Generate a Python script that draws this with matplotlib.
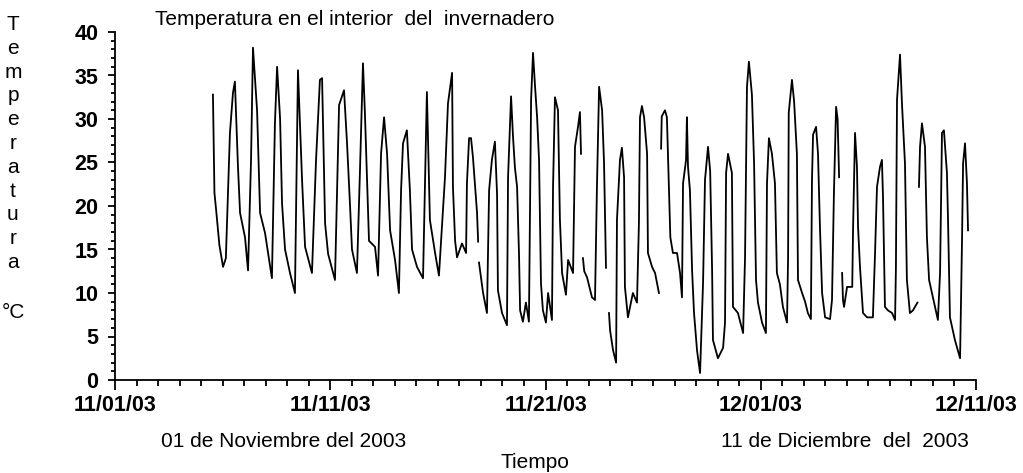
import numpy as np
import matplotlib
matplotlib.use("Agg")
import matplotlib.pyplot as plt
from matplotlib.ticker import MultipleLocator

# tiempo en dias desde el 01/11/03, temperatura en grados C (nan = hueco en el registro)
nan = np.nan
dias = [4.55, 4.62, 4.70, 4.85, 5.02, 5.15, 5.34, 5.48, 5.57, 5.71, 5.81, 6.04, 6.18,
        6.32, 6.41, 6.60, 6.74, 6.97, 7.11, 7.29,
        7.43, 7.53, 7.67, 7.76, 7.90, 8.13, 8.36,
        8.50, 8.69, 8.83, 9.15,
        9.34, 9.52, 9.62, 9.76, 9.90, 10.22,
        10.41, 10.64, 10.78, 10.92, 11.01, 11.24,
        11.38, 11.52, 11.61, 11.80, 12.08, 12.22,
        12.36, 12.50, 12.64, 12.78, 13.01, 13.19,
        13.29, 13.38, 13.56, 13.70, 13.80, 14.03, 14.31,
        14.45, 14.49, 14.63, 14.87, 15.05,
        15.33, 15.47, 15.66, 15.70, 15.80, 15.89, 16.12, 16.31,
        16.35, 16.45, 16.54, 16.63, 16.72, 16.82, 16.87, 16.89, 16.91, 17.10, 17.28,
        17.33, 17.38, 17.51, 17.65, 17.75, 17.79, 17.98, 18.21,
        18.26, 18.40, 18.49, 18.58, 18.68, 18.77, 18.82, 18.95, 19.09, 19.23,
        19.33, 19.42, 19.51, 19.61, 19.70, 19.79, 19.88, 20.02, 20.12, 20.30,
        20.35, 20.44, 20.58, 20.67, 20.77, 20.95, 21.05, 21.28,
        21.37, 21.51, 21.60, 21.65, 21.70, 21.74, 21.80, 21.93, 22.16, 22.30,
        22.39, 22.49, 22.63, 22.72, 22.81, 22.88, 22.95, 23.00, 23.14, 23.28,
        23.32, 23.46, 23.55, 23.65, 23.69, 23.83, 24.06, 24.25,
        24.34, 24.39, 24.48, 24.58, 24.72, 24.76, 24.95, 25.09, 25.27, 25.32,
        25.37, 25.40, 25.55, 25.64, 25.74, 25.80, 25.92, 26.11, 26.25, 26.34,
        26.39, 26.53, 26.57, 26.62, 26.71, 26.81, 26.90, 27.04, 27.18,
        27.32, 27.41, 27.55, 27.65, 27.74, 27.78, 28.01, 28.25,
        28.34, 28.39, 28.48, 28.66, 28.71, 28.94, 29.18,
        29.27, 29.36, 29.45, 29.59, 29.69, 29.78, 29.87, 30.06, 30.24,
        30.29, 30.38, 30.52, 30.66, 30.75, 30.89, 31.03, 31.22,
        31.27, 31.30, 31.45, 31.55, 31.68, 31.73, 31.92, 32.06, 32.19, 32.33,
        32.38, 32.43, 32.57, 32.66, 32.75, 32.85, 32.99, 33.22,
        33.31, 33.40, 33.50, 33.57, 33.64, 33.70, 33.78, 33.82, 33.87, 34.01, 34.25,
        34.29, 34.38, 34.47, 34.52, 34.61, 34.75, 34.94, 35.21,
        35.31, 35.40, 35.54, 35.63, 35.68, 35.77, 35.91, 36.10, 36.24,
        36.28, 36.33, 36.47, 36.56, 36.70, 36.79, 36.93, 37.07, 37.28, 37.32,
        37.35, 37.40, 37.49, 37.63, 37.72, 37.82, 38.00, 38.23,
        38.33, 38.42, 38.51, 38.65, 38.70, 38.79, 39.02, 39.26,
        39.35, 39.40, 39.49, 39.58, 39.63]
temp = [32.8, 21.5, 19.5, 15.5, 13.0, 14.0, 28.4, 33.0, 34.3, 24.7, 19.2, 16.4, 12.6,
        25.3, 38.2, 31.0, 19.2, 16.9, 14.6, 11.7,
        29.5, 36.0, 30.0, 20.3, 15.0, 12.3, 10.0,
        35.6, 23.0, 15.3, 12.3,
        25.3, 34.5, 34.7, 18.0, 14.5, 11.5,
        31.6, 33.3, 27.2, 20.0, 15.0, 12.3,
        24.0, 36.4, 30.7, 16.0, 15.3, 12.0,
        26.0, 30.2, 26.0, 17.2, 13.8, 10.0,
        21.8, 27.2, 28.7, 21.8, 15.0, 13.0, 11.7,
        28.0, 33.1, 18.4, 14.6, 12.0,
        23.3, 31.8, 35.3, 22.2, 16.0, 14.1, 15.7, 14.6,
        22.6, 27.8, 27.8, 25.6, 22.6, 19.2, 15.9, nan, 13.5, 10.0, 7.7,
        15.0, 21.8, 25.3, 27.4, 21.3, 10.3, 7.7, 6.3,
        23.3, 32.6, 28.0, 24.4, 22.2, 14.4, 8.0, 6.7, 8.9, 6.7,
        32.2, 37.6, 33.9, 30.2, 25.3, 11.1, 8.0, 6.6, 10.0, 6.9,
        22.2, 32.5, 31.0, 18.4, 12.3, 9.8, 13.8, 12.3,
        26.8, 29.1, 30.8, 26.0, nan, 14.0, 12.5, 11.8, 9.5, 9.2,
        22.2, 33.7, 31.0, 24.9, 12.9, nan, 7.7, 5.7, 3.4, 2.0,
        18.4, 25.3, 26.7, 23.3, 10.7, 7.2, 10.0, 8.9,
        18.0, 30.2, 31.5, 30.2, 26.0, 14.6, 13.0, 12.3, 10.0, nan,
        26.6, 30.3, 31.0, 30.2, 21.5, 16.4, 14.6, 14.6, 12.3, 9.5,
        22.6, 25.3, 30.2, 24.5, 21.8, 12.6, 7.7, 3.4, 0.8,
        11.2, 23.0, 26.8, 24.0, 12.6, 4.6, 2.5, 3.7,
        6.6, 23.8, 26.0, 23.8, 8.4, 7.7, 5.4,
        14.1, 33.7, 36.6, 32.8, 24.9, 11.5, 8.9, 6.6, 5.4,
        22.6, 27.8, 26.0, 22.6, 12.3, 11.0, 8.4, 6.6,
        14.1, 30.7, 34.5, 32.0, 26.0, 11.5, 10.0, 9.0, 7.7, 7.0,
        23.0, 28.2, 29.1, 26.0, 17.6, 10.0, 7.2, 7.0,
        9.2, 21.5, 31.4, 30.0, 23.3, nan, 12.3, 9.2, 8.4, 10.7, 10.7,
        17.6, 28.4, 24.5, 17.6, 13.0, 7.7, 7.2, 7.2,
        14.6, 22.2, 24.5, 25.3, 21.0, 8.4, 8.0, 7.7, 6.9,
        13.0, 32.2, 37.4, 31.8, 24.9, 11.5, 7.7, 8.0, 8.9, nan,
        22.2, 26.8, 29.5, 26.8, 16.4, 11.5, 9.5, 6.9,
        12.3, 28.4, 28.7, 23.8, 18.4, 7.2, 4.6, 2.5,
        16.0, 24.9, 27.2, 22.6, 17.2]

fechas = [0, 10, 20, 30, 40]
etiquetas = ["11/01/03", "11/11/03", "11/21/03", "12/01/03", "12/11/03"]
ticks_y = [0, 5, 10, 15, 20, 25, 30, 35, 40]

W, H = 1023, 473
fig = plt.figure(figsize=(W / 100, H / 100), dpi=100)
fig.patch.set_facecolor("white")
ax = fig.add_axes([115 / W, 1 - 380 / H, (976 - 115) / W, (380 - 32) / H])

ax.plot(dias, temp, color="black", lw=1.3)

ax.set_xlim(0, 40)
ax.set_ylim(0, 40)
ax.spines["top"].set_visible(False)
ax.spines["right"].set_visible(False)
for s in ("left", "bottom"):
    ax.spines[s].set_linewidth(1.3)

ax.set_xticks(fechas)
ax.set_xticklabels(etiquetas)
ax.xaxis.set_minor_locator(MultipleLocator(1))
ax.set_yticks(ticks_y)
ax.yaxis.set_minor_locator(MultipleLocator(1))
ax.tick_params(axis="x", which="major", length=7, width=1.3, pad=4)
ax.tick_params(axis="x", which="minor", length=4, width=1.3)
ax.tick_params(axis="y", which="major", length=5, width=1.3, pad=7)
ax.tick_params(axis="y", which="minor", length=3, width=1.3)

fuente = ["Liberation Sans", "DejaVu Sans"]
for lab in ax.get_xticklabels() + ax.get_yticklabels():
    lab.set_family(fuente)
    lab.set_fontweight("bold")
    lab.set_fontsize(15.5)

fig.text(155 / W, 1 - 25 / H, "Temperatura en el interior  del  invernadero",
         family=fuente, fontsize=15, va="baseline", ha="left")

# etiqueta vertical del eje y, letra por letra
for i, letra in enumerate("Temperatura"):
    fig.text(13 / W, 1 - (30 + 23.8 * i) / H, letra, family=fuente,
             fontsize=15, ha="center", va="baseline")
fig.text(13 / W, 1 - 318 / H, "°C", family=fuente, fontsize=15,
         ha="center", va="baseline")

fig.text(284 / W, 1 - 447 / H, "01 de Noviembre del 2003", family=fuente,
         fontsize=15, ha="center", va="baseline")
fig.text(845 / W, 1 - 447 / H, "11 de Diciembre  del  2003", family=fuente,
         fontsize=15, ha="center", va="baseline")
fig.text(535 / W, 1 - 468 / H, "Tiempo", family=fuente, fontsize=15,
         ha="center", va="baseline")

fig.savefig("out.png", dpi=100)
